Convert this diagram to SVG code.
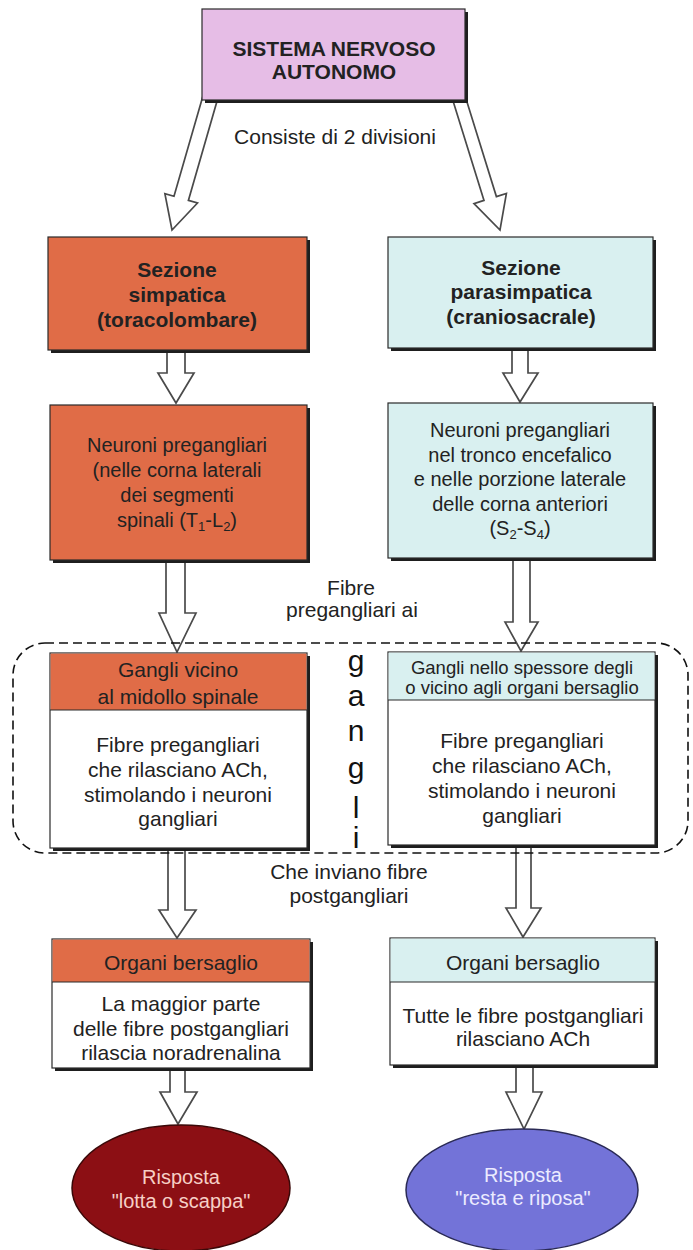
<svg xmlns="http://www.w3.org/2000/svg" width="693" height="1250" viewBox="0 0 693 1250">
  <defs>
    <style>
      text { font-family: "Liberation Sans", Arial, sans-serif; fill: #222; text-anchor: middle; }
      .title { font-size: 21px; font-weight: bold; }
      .sect { font-size: 21px; font-weight: bold; }
      .body { font-size: 20px; }
      .body21 { font-size: 21px; }
      .small { font-size: 18.5px; }
      .label { font-size: 21px; }
      .vert { font-size: 30px; fill: #111; }
      .resp { font-size: 20px; }
      .shadow { fill: #1e1e1e; }
      .box { stroke: #2a2a2a; stroke-width: 1.2; }
      .divider { stroke: #2a2a2a; stroke-width: 1.2; }
      .purple { fill: #e6bde6; }
      .orange { fill: #e06c47; }
      .cyan { fill: #d9f0f0; }
      .white { fill: #ffffff; }
      .arrow { fill: #ffffff; stroke: #4a4a4a; stroke-width: 1.7; stroke-linejoin: miter; }
      .dash { fill: none; stroke: #111; stroke-width: 1.6; stroke-dasharray: 9 5; }
    </style>
  </defs>

  <rect width="693" height="1250" fill="#ffffff"/>

  <!-- hollow block arrows -->
  <g id="connectors">
    <polygon class="arrow" points="203.8,92.9 174,196.2 164.9,193.6 172,230 197.5,203 188.4,200.4 218.2,97.1"/>
    <polygon class="arrow" points="451.8,96.9 484,200.4 474,203.6 500,230 506.4,193.5 496.4,196.6 464.2,93.1"/>

    <polygon class="arrow" points="167,350 167,373 158,373 176,403 194,373 185,373 185,350"/>
    <polygon class="arrow" points="166,560 166,613 159,613 177,652 196,613 185,613 185,560"/>
    <polygon class="arrow" points="168,848 168,910 159,910 177,938 196,910 185,910 185,848"/>
    <polygon class="arrow" points="170,1068 170,1092 160,1092 178,1124 197,1092 185,1092 185,1068"/>

    <polygon class="arrow" points="512,348 512,373 503,373 520,402 538,373 528,373 528,348"/>
    <polygon class="arrow" points="513,558 513,622 505,622 521,651 538,622 530,622 530,558"/>
    <polygon class="arrow" points="516,845 516,908 506,908 523,937 541,908 531,908 531,845"/>
    <polygon class="arrow" points="516,1065 516,1092 506,1092 524,1129 542,1092 533,1092 533,1065"/>
  </g>

  <!-- root -->
  <g id="sna">
    <rect class="shadow" x="205" y="12" width="263" height="91"/>
    <rect class="box purple" x="202" y="9" width="263" height="91"/>
    <text class="title" x="334" y="56">SISTEMA NERVOSO</text>
    <text class="title" x="334" y="79">AUTONOMO</text>
  </g>

  <g id="label-divisioni">
    <text class="label" x="335" y="144">Consiste di 2 divisioni</text>
  </g>

  <!-- sympathetic column -->
  <g id="simpatica">
    <rect class="shadow" x="51" y="240" width="259" height="113"/>
    <rect class="box orange" x="48" y="237" width="259" height="113"/>
    <text class="sect" x="177" y="277">Sezione</text>
    <text class="sect" x="177" y="302">simpatica</text>
    <text class="sect" x="177" y="327">(toracolombare)</text>
  </g>

  <g id="neuroni-simpatici">
    <rect class="shadow" x="53" y="408" width="257" height="155"/>
    <rect class="box orange" x="50" y="405" width="257" height="155"/>
    <text class="body" x="177" y="452">Neuroni pregangliari</text>
    <text class="body" x="177" y="477">(nelle corna laterali</text>
    <text class="body" x="177" y="502">dei segmenti</text>
    <text class="body" x="177" y="527">spinali (T<tspan font-size="13" dy="4">1</tspan><tspan dy="-4">-L</tspan><tspan font-size="13" dy="4">2</tspan><tspan dy="-4">)</tspan></text>
  </g>

  <g id="gangli-simpatici">
    <rect class="shadow" x="53" y="656" width="257" height="195"/>
    <rect class="box white" x="50" y="653" width="257" height="195"/>
    <rect class="orange" x="50.6" y="653.6" width="255.8" height="56.4"/>
    <line class="divider" x1="50" y1="710" x2="307" y2="710"/>
    <text class="body21" x="178" y="677">Gangli vicino</text>
    <text class="body21" x="178" y="704">al midollo spinale</text>
    <text class="body21" x="178" y="752">Fibre pregangliari</text>
    <text class="body21" x="178" y="777">che rilasciano ACh,</text>
    <text class="body21" x="178" y="802">stimolando i neuroni</text>
    <text class="body21" x="178" y="826">gangliari</text>
  </g>

  <g id="organi-simpatici">
    <rect class="shadow" x="55" y="942" width="258" height="129"/>
    <rect class="box white" x="52" y="939" width="258" height="129"/>
    <rect class="orange" x="52.6" y="939.6" width="256.8" height="42.4"/>
    <line class="divider" x1="52" y1="982" x2="310" y2="982"/>
    <text class="body21" x="181" y="969.5">Organi bersaglio</text>
    <text class="body21" x="181" y="1010.5">La maggior parte</text>
    <text class="body21" x="181" y="1035.5">delle fibre postgangliari</text>
    <text class="body21" x="181" y="1059.5">rilascia noradrenalina</text>
  </g>

  <g id="risposta-lotta">
    <ellipse cx="181" cy="1188" rx="109" ry="63" fill="#8c0f14" stroke="#3a0808" stroke-width="1.5"/>
    <text class="resp" x="181" y="1184" style="fill:#f7cfc6">Risposta</text>
    <text class="resp" x="181" y="1208" style="fill:#f7cfc6">"lotta o scappa"</text>
  </g>

  <!-- parasympathetic column -->
  <g id="parasimpatica">
    <rect class="shadow" x="391" y="240" width="265" height="111"/>
    <rect class="box cyan" x="388" y="237" width="265" height="111"/>
    <text class="sect" x="521" y="275">Sezione</text>
    <text class="sect" x="521" y="299">parasimpatica</text>
    <text class="sect" x="521" y="324">(craniosacrale)</text>
  </g>

  <g id="neuroni-parasimpatici">
    <rect class="shadow" x="391" y="406" width="265" height="155"/>
    <rect class="box cyan" x="388" y="403" width="265" height="155"/>
    <text class="body" x="520" y="437">Neuroni pregangliari</text>
    <text class="body" x="520" y="461.5">nel tronco encefalico</text>
    <text class="body" x="520" y="486">e nelle porzione laterale</text>
    <text class="body" x="520" y="510.5">delle corna anteriori</text>
    <text class="body" x="520" y="535">(S<tspan font-size="13" dy="4">2</tspan><tspan dy="-4">-S</tspan><tspan font-size="13" dy="4">4</tspan><tspan dy="-4">)</tspan></text>
  </g>

  <g id="gangli-parasimpatici">
    <rect class="shadow" x="391" y="655" width="267" height="193"/>
    <rect class="box white" x="388" y="652" width="267" height="193"/>
    <rect class="cyan" x="388.6" y="652.6" width="265.8" height="47.4"/>
    <line class="divider" x1="388" y1="700" x2="655" y2="700"/>
    <text class="small" x="522" y="673.5">Gangli nello spessore degli</text>
    <text class="small" x="522" y="693.5">o vicino agli organi bersaglio</text>
    <text class="body21" x="522" y="747.5">Fibre pregangliari</text>
    <text class="body21" x="522" y="772.5">che rilasciano ACh,</text>
    <text class="body21" x="522" y="798">stimolando i neuroni</text>
    <text class="body21" x="522" y="823">gangliari</text>
  </g>

  <g id="organi-parasimpatici">
    <rect class="shadow" x="393" y="941" width="265" height="127"/>
    <rect class="box white" x="390" y="938" width="265" height="127"/>
    <rect class="cyan" x="390.6" y="938.6" width="263.8" height="43.4"/>
    <line class="divider" x1="390" y1="982" x2="655" y2="982"/>
    <text class="body21" x="523" y="969.5">Organi bersaglio</text>
    <text class="body21" x="523" y="1022.5">Tutte le fibre postgangliari</text>
    <text class="body21" x="523" y="1045.5">rilasciano ACh</text>
  </g>

  <g id="risposta-riposo">
    <ellipse cx="522" cy="1190" rx="116" ry="61" fill="#7373d8" stroke="#2a2a55" stroke-width="1.5"/>
    <text class="resp" x="523" y="1182" style="fill:#ecebff">Risposta</text>
    <text class="resp" x="523" y="1205" style="fill:#ecebff">"resta e riposa"</text>
  </g>

  <!-- middle labels -->
  <g id="label-fibre-pregangliari">
    <text class="label" x="351" y="595">Fibre</text>
    <text class="label" x="352" y="617">pregangliari ai</text>
  </g>

  <g id="label-fibre-postgangliari">
    <text class="label" x="349" y="879">Che inviano fibre</text>
    <text class="label" x="349" y="903">postgangliari</text>
  </g>

  <!-- ganglia grouping outline with vertical caption -->
  <g id="gangli">
    <rect class="dash" x="13" y="643" width="675" height="210" rx="32" ry="32"/>
    <text class="vert" x="356" y="671">g</text>
    <text class="vert" x="356" y="706">a</text>
    <text class="vert" x="356" y="741">n</text>
    <text class="vert" x="356" y="778">g</text>
    <text class="vert" x="356" y="818">l</text>
    <text class="vert" x="356" y="848">i</text>
  </g>
</svg>
